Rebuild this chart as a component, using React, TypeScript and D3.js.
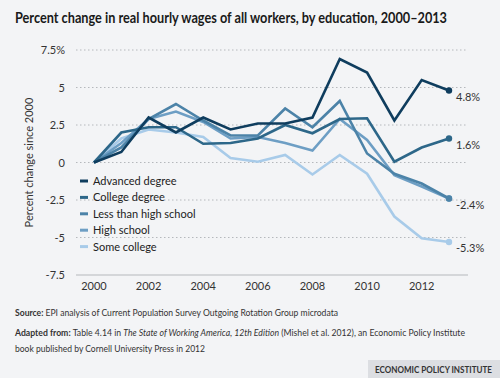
import React from "react";
import * as d3 from "d3";

const years = [2000, 2001, 2002, 2003, 2004, 2005, 2006, 2007, 2008, 2009, 2010, 2011, 2012, 2013];
const seriesNames = ["Advanced degree", "College degree", "Less than high school", "High school", "Some college"];
const advanced = [0, 0.7, 3.0, 2.0, 3.0, 2.2, 2.6, 2.6, 3.0, 6.9, 6.0, 2.8, 5.5, 4.8];
const college = [0, 2.0, 2.35, 2.35, 1.25, 1.3, 1.6, 2.5, 1.95, 2.9, 2.95, 0.05, 1.0, 1.6];
const lessHS = [0, 1.0, 2.9, 3.9, 2.8, 1.8, 1.8, 3.6, 2.35, 4.1, 0.6, -0.75, -1.4, -2.4];
const highSchool = [0, 1.3, 2.9, 3.4, 2.7, 1.6, 1.7, 1.3, 0.8, 2.9, 1.5, -0.85, -1.6, -2.4];
const someCollege = [0, 1.6, 2.2, 2.0, 1.7, 0.3, 0.05, 0.5, -0.8, 0.5, -0.75, -3.6, -5.05, -5.3];
const endLabels = ["4.8%", "1.6%", "-2.4%", "", "-5.3%"];
const yTicks = [7.5, 5, 2.5, 0, -2.5, -5, -7.5];
const yTickLabels = ["7.5%", "5", "2.5", "0", "-2.5", "-5", "-7.5"];
const xTicks = [2000, 2002, 2004, 2006, 2008, 2010, 2012];

const colors = ["#0f3d5e", "#2d6789", "#4c83a8", "#6d9ec4", "#a8cbe9"];

export default function App() {
  const W = 500, H = 378;
  const x = d3.scaleLinear().domain([2000, 2013]).range([94, 449]);
  const y = d3.scaleLinear().domain([-7.5, 7.5]).range([275, 50]);
  const data = [advanced, college, lessHS, highSchool, someCollege];
  const line = d3.line<number>().x((_, i) => x(years[i])).y((d) => y(d));
  const font = "Lato, 'Open Sans', sans-serif";
  const drawOrder = [4, 3, 2, 1, 0];
  return (
    <svg width={W} height={H} style={{ position: "absolute", left: 0, top: 0 }} fontFamily={font}>
      <rect x={0} y={0} width={W} height={H} fill="#f3f4f6" />
      <text x={15} y={23} fontSize={15.5} fontWeight={700} fill="#1a1a1a" textLength={432} lengthAdjust="spacingAndGlyphs">
        Percent change in real hourly wages of all workers, by education, 2000–2013
      </text>
      {yTicks.map((t, i) => (
        <g key={t}>
          {t !== -7.5 && (
            <line x1={76} x2={468} y1={y(t)} y2={y(t)} stroke="#b5b8bc" strokeWidth={1} strokeDasharray="1.5,2.5" />
          )}
          <text x={65} y={y(t) + 4} fontSize={11} textAnchor="end" fill="#333">
            {yTickLabels[i]}
          </text>
        </g>
      ))}
      <line x1={76} x2={468} y1={y(-7.5)} y2={y(-7.5)} stroke="#b5b8bc" strokeWidth={1.2} />
      {xTicks.map((t) => (
        <text key={t} x={x(t)} y={290} fontSize={11} textAnchor="middle" fill="#333">
          {t}
        </text>
      ))}
      <text transform={`translate(33,${y(0)}) rotate(-90)`} fontSize={11} textAnchor="middle" fill="#333">
        Percent change since 2000
      </text>
      {drawOrder.map((k) => (
        <g key={k}>
          <path d={line(data[k]) || ""} fill="none" stroke={colors[k]} strokeWidth={2.6} strokeLinejoin="miter" />
          <circle cx={x(2013)} cy={y(data[k][13])} r={3.2} fill={colors[k]} />
        </g>
      ))}
      {endLabels.map((l, k) =>
        l ? (
          <text key={k} x={x(2013) + 7} y={y(data[k][13]) + 10} fontSize={11} fill="#333">
            {l}
          </text>
        ) : null
      )}
      {seriesNames.map((s, k) => (
        <g key={s} transform={`translate(80,${181 + k * 16.4})`}>
          <line x1={0} x2={8} y1={0} y2={0} stroke={colors[k]} strokeWidth={3} />
          <text x={13} y={4} fontSize={11} fill="#222">
            {s}
          </text>
        </g>
      ))}
      <text x={15} y={316} fontSize={9.5} fill="#333" textLength={323} lengthAdjust="spacingAndGlyphs">
        <tspan fontWeight={700}>Source: </tspan>EPI analysis of Current Population Survey Outgoing Rotation Group microdata
      </text>
      <text x={15} y={336} fontSize={9.5} fill="#333" textLength={450} lengthAdjust="spacingAndGlyphs">
        <tspan fontWeight={700}>Adapted from: </tspan>Table 4.14 in <tspan fontStyle="italic">The State of Working America, 12th Edition</tspan> (Mishel et al. 2012), an Economic Policy Institute
      </text>
      <text x={15} y={352} fontSize={9.5} fill="#333" textLength={190} lengthAdjust="spacingAndGlyphs">
        book published by Cornell University Press in 2012
      </text>
      <rect x={368} y={360} width={132} height={18} fill="#dcdee2" />
      <text x={375} y={373} fontSize={10} fontWeight={700} fill="#333" textLength={117} lengthAdjust="spacingAndGlyphs">
        ECONOMIC POLICY INSTITUTE
      </text>
    </svg>
  );
}
